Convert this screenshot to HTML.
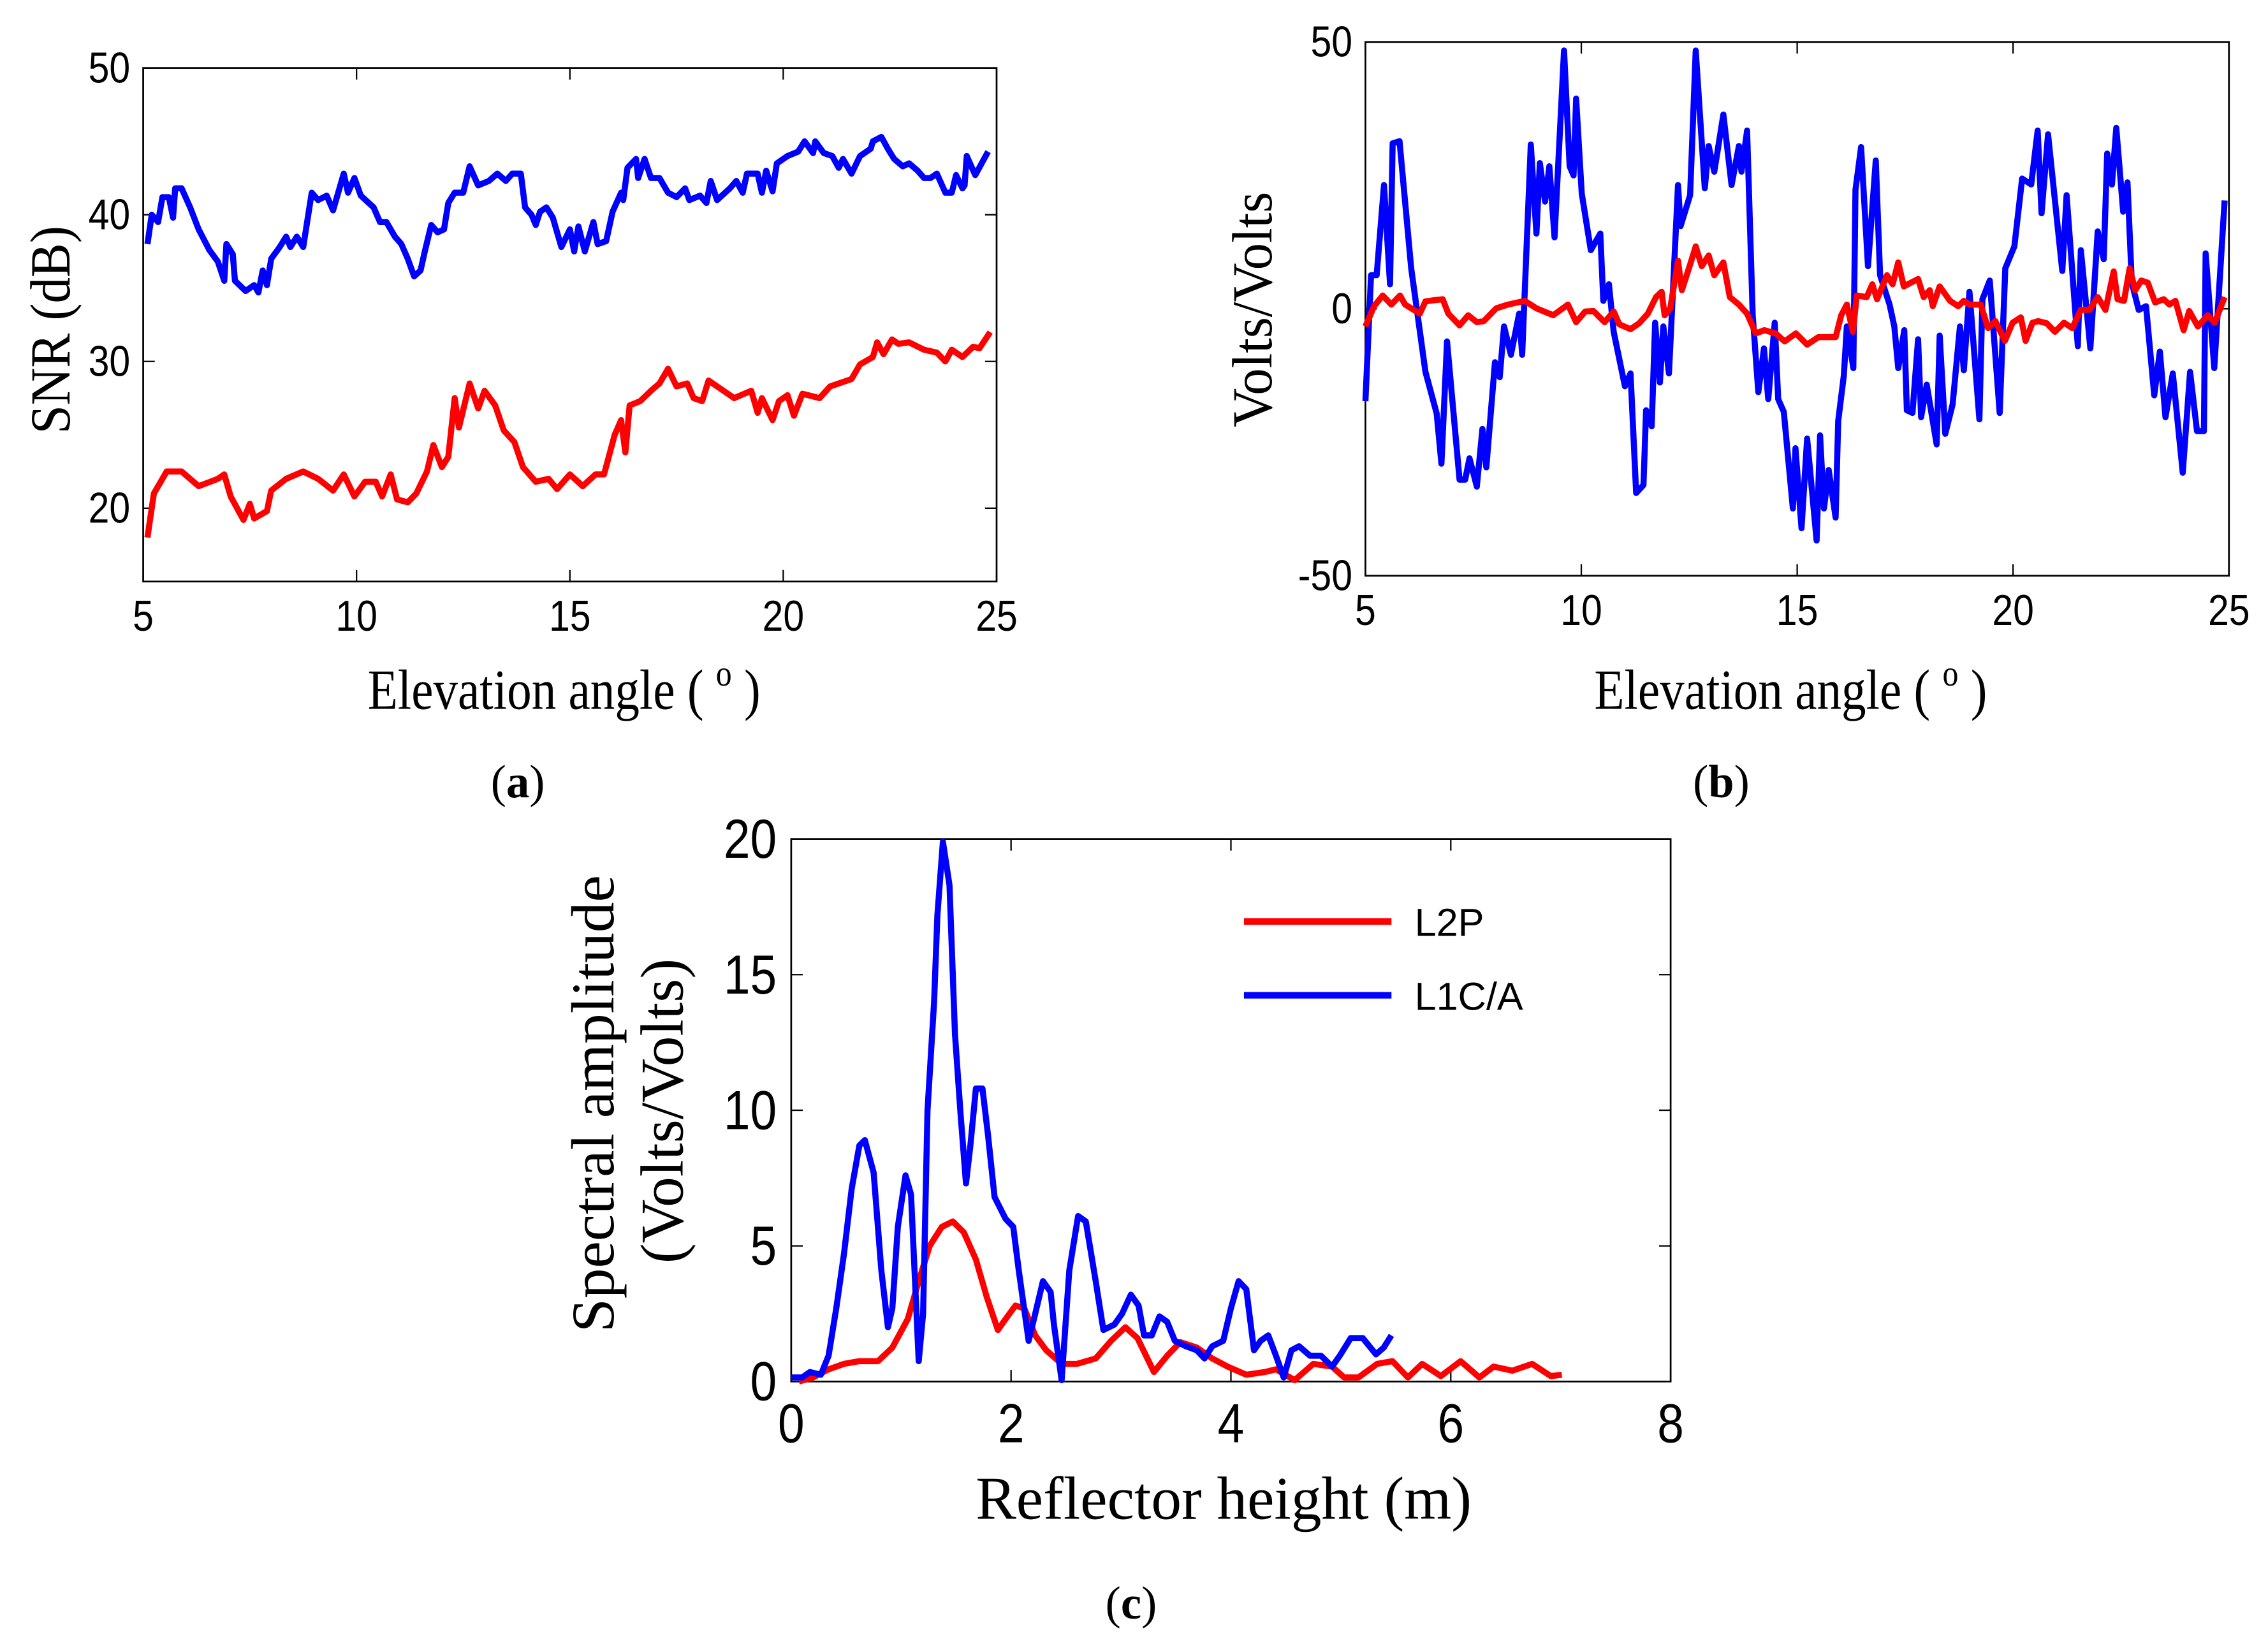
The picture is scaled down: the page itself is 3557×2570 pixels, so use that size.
<!DOCTYPE html>
<html><head><meta charset="utf-8"><style>
html,body{margin:0;padding:0;background:#fff}
svg{display:block}
.tk{font-family:"Liberation Sans Narrow","Liberation Sans",sans-serif;font-size:26px;fill:#000}
.tkc{font-family:"Liberation Sans Narrow","Liberation Sans",sans-serif;font-size:33px;fill:#000}
.ttl{font-family:"Liberation Serif",serif;font-size:34px;fill:#000}
.ttlc{font-family:"Liberation Serif",serif;font-size:42px;fill:#000}
.pl{font-family:"Liberation Serif",serif;font-size:32px;fill:#000}
.lg{font-family:"Liberation Sans",sans-serif;font-size:27px;fill:#000}
</style></head><body>
<svg id="fig" width="3557" height="2570" viewBox="0 0 1568 1133" preserveAspectRatio="none" xmlns="http://www.w3.org/2000/svg">
<g id="pa"></g>
<g id="pb"></g>
<g id="pc"></g>
<text class="ttl" transform="translate(390,490) scale(1,1.15)" text-anchor="middle">Elevation angle ( <tspan dy="-14" font-size="22">o</tspan><tspan dy="14"> )</tspan></text>
<text class="ttl" transform="translate(48,228) rotate(-90) scale(1.05,1.15)" text-anchor="middle">SNR (dB)</text>
<text class="pl" x="358" y="551" text-anchor="middle">(<tspan font-weight="bold">a</tspan>)</text>
<text class="ttl" transform="translate(1238,490) scale(1,1.15)" text-anchor="middle">Elevation angle ( <tspan dy="-14" font-size="22">o</tspan><tspan dy="14"> )</tspan></text>
<text class="ttl" transform="translate(879,214) rotate(-90) scale(1.1,1.15)" text-anchor="middle">Volts/Volts</text>
<text class="pl" x="1190" y="551" text-anchor="middle">(<tspan font-weight="bold">b</tspan>)</text>
<text class="ttlc" x="846" y="1050" text-anchor="middle">Reflector height (m)</text>
<text class="ttlc" transform="translate(424,763) rotate(-90)" text-anchor="middle">Spectral amplitude</text>
<text class="ttlc" transform="translate(472,768) rotate(-90)" text-anchor="middle">(Volts/Volts)</text>
<text class="pl" x="782" y="1119" text-anchor="middle">(<tspan font-weight="bold">c</tspan>)</text>
<g>
<line x1="860" y1="637" x2="962" y2="637" stroke="#f00" stroke-width="4.5"/>
<text class="lg" x="978" y="647">L2P</text>
<line x1="860" y1="688" x2="962" y2="688" stroke="#00f" stroke-width="4.5"/>
<text class="lg" x="978" y="698">L1C/A</text>
</g>
</svg>
<script>
const aXTicks=[5,10,15,20,25];
const aYTicks=[20,30,40,50];
const aBlue=[[5.1,38],[5.2,40],[5.35,39.5],[5.45,41.2],[5.6,41.2],[5.7,39.8],[5.75,41.8],[5.9,41.8],[6.1,40.5],[6.3,39],[6.55,37.6],[6.75,36.8],[6.9,35.5],[6.95,38],[7.1,37.3],[7.15,35.5],[7.4,34.8],[7.6,35.2],[7.7,34.7],[7.8,36.2],[7.9,35.2],[8.0,37],[8.2,37.8],[8.35,38.5],[8.45,37.8],[8.6,38.5],[8.75,37.8],[8.95,41.5],[9.1,41],[9.3,41.3],[9.45,40.3],[9.7,42.8],[9.8,41.5],[9.95,42.5],[10.1,41.3],[10.4,40.5],[10.55,39.5],[10.7,39.5],[10.9,38.5],[11.05,38],[11.2,37],[11.35,35.8],[11.5,36.2],[11.6,37.5],[11.75,39.3],[11.9,38.8],[12.05,39],[12.15,40.8],[12.3,41.5],[12.5,41.5],[12.65,43.3],[12.85,42],[13.1,42.3],[13.3,42.8],[13.5,42.3],[13.65,42.8],[13.85,42.8],[13.95,40.5],[14.1,40],[14.2,39.3],[14.3,40.2],[14.45,40.5],[14.6,39.8],[14.8,37.8],[15.0,39],[15.1,37.5],[15.2,39.2],[15.35,37.5],[15.55,39.5],[15.65,38],[15.85,38.2],[16.0,40.2],[16.2,41.5],[16.25,41],[16.35,43.2],[16.55,43.8],[16.6,42.5],[16.75,43.8],[16.9,42.5],[17.1,42.5],[17.3,41.5],[17.5,41.2],[17.7,41.8],[17.8,41],[18.05,41.3],[18.2,40.8],[18.3,42.3],[18.45,41],[18.75,41.8],[18.9,42.3],[19.05,41.5],[19.15,42.8],[19.4,42.8],[19.5,41.5],[19.6,43],[19.75,41.6],[19.85,43.5],[20.1,44],[20.35,44.3],[20.5,45],[20.7,44.2],[20.75,45],[20.95,44.2],[21.15,44],[21.3,43.2],[21.4,43.8],[21.6,42.8],[21.8,44],[22.05,44.5],[22.1,45],[22.3,45.3],[22.45,44.5],[22.6,43.8],[22.8,43.3],[22.95,43.5],[23.15,43],[23.3,42.5],[23.45,42.5],[23.6,42.8],[23.8,41.5],[23.95,41.5],[24.05,42.7],[24.2,41.8],[24.25,42],[24.3,44],[24.5,42.7],[24.8,44.3]];
const aRed=[[5.1,18],[5.25,21],[5.55,22.5],[5.9,22.5],[6.3,21.5],[6.75,22],[6.9,22.3],[7.05,20.8],[7.35,19.2],[7.5,20.3],[7.6,19.3],[7.9,19.8],[8.0,21.2],[8.35,22],[8.75,22.5],[9.1,22],[9.45,21.2],[9.7,22.3],[9.95,20.8],[10.2,21.8],[10.45,21.8],[10.6,20.8],[10.8,22.3],[10.95,20.6],[11.2,20.4],[11.4,21],[11.65,22.5],[11.8,24.3],[12.0,22.8],[12.15,23.5],[12.3,27.5],[12.4,25.5],[12.65,28.5],[12.85,26.8],[13.0,28],[13.25,27],[13.45,25.3],[13.7,24.5],[13.9,22.8],[14.2,21.8],[14.5,22],[14.7,21.3],[15.0,22.3],[15.3,21.5],[15.6,22.3],[15.8,22.3],[16.05,25],[16.2,26],[16.3,23.8],[16.4,27],[16.65,27.3],[16.9,28],[17.1,28.5],[17.3,29.5],[17.5,28.3],[17.75,28.5],[17.9,27.5],[18.1,27.3],[18.25,28.7],[18.6,28],[18.85,27.5],[19.25,28],[19.4,26.5],[19.5,27.5],[19.75,26],[19.9,27.3],[20.1,27.7],[20.25,26.3],[20.45,27.8],[20.85,27.5],[21.1,28.3],[21.4,28.6],[21.6,28.8],[21.8,29.8],[22.1,30.3],[22.2,31.3],[22.35,30.5],[22.55,31.5],[22.7,31.2],[22.95,31.3],[23.3,30.8],[23.6,30.6],[23.8,30],[23.95,30.8],[24.2,30.3],[24.45,31],[24.6,30.9],[24.85,32]];
const bXTicks=[5,10,15,20,25];
const bYTicks=[-50,0,50];
const bBlue=[[5.0,-17.3],[5.13,6.3],[5.26,6.3],[5.43,23.2],[5.57,4.6],[5.63,31],[5.79,31.4],[6.06,7.6],[6.39,-11.8],[6.65,-19.6],[6.76,-29],[6.89,-6.1],[7.18,-32],[7.31,-32],[7.41,-28],[7.58,-33.3],[7.71,-22.5],[7.8,-29.7],[8.0,-10],[8.11,-12.8],[8.21,-3.3],[8.37,-8.6],[8.56,-0.9],[8.63,-8.6],[8.83,30.8],[8.96,14.1],[9.04,27.3],[9.16,20.1],[9.26,26.7],[9.38,13.4],[9.6,48.4],[9.73,26.7],[9.82,25],[9.88,39.4],[10.01,21.6],[10.22,11],[10.44,14.1],[10.51,1.5],[10.64,4.6],[10.75,-4.3],[11.01,-14.5],[11.14,-12.1],[11.27,-34.5],[11.44,-33],[11.5,-19],[11.63,-22],[11.71,-2.6],[11.82,-13.8],[11.9,-3.3],[12.03,-12.1],[12.24,23.2],[12.3,15.5],[12.52,21.3],[12.65,48.4],[12.86,22.6],[12.95,30.5],[13.08,25.7],[13.29,36.4],[13.48,23.2],[13.65,30.5],[13.71,25.7],[13.84,33.4],[13.97,-1.2],[14.1,-15.6],[14.23,-7.4],[14.33,-16.9],[14.48,-2.6],[14.56,-16.9],[14.69,-19.3],[14.9,-37.4],[14.96,-26.1],[15.1,-41.1],[15.23,-24.3],[15.45,-43.4],[15.53,-23.7],[15.62,-37.4],[15.73,-30.2],[15.89,-39.1],[15.95,-21],[16.08,-12.5],[16.15,-3.3],[16.3,-11.1],[16.35,22.3],[16.48,30.3],[16.64,8],[16.82,27.8],[16.92,6.3],[17.14,0.8],[17.25,-3.3],[17.34,-11.1],[17.48,-4],[17.54,-19],[17.67,-19.5],[17.8,-5.7],[17.87,-20.3],[18.0,-14.2],[18.23,-25.4],[18.3,-5],[18.43,-23.4],[18.6,-17.9],[18.77,-3.3],[18.86,-11.5],[18.99,3.2],[19.22,-20.7],[19.29,1.8],[19.46,5.3],[19.69,-19.5],[19.82,7.6],[20.03,11.7],[20.21,24.4],[20.42,23.3],[20.57,33.4],[20.66,17.9],[20.81,32.7],[21.14,7.1],[21.24,21.3],[21.5,-7],[21.57,11],[21.79,-7.4],[21.96,14.5],[22.1,9.3],[22.18,29.1],[22.29,23.3],[22.39,33.9],[22.55,18.2],[22.65,23.7],[22.75,4.9],[22.91,-0.2],[23.08,0.5],[23.27,-16.2],[23.4,-8],[23.53,-20.3],[23.7,-12.1],[23.93,-30.7],[24.1,-11.8],[24.26,-22.9],[24.42,-22.9],[24.46,10.4],[24.66,-11.1],[24.9,20.3]];
const bRed=[[5.0,-3.3],[5.2,0.5],[5.4,2.5],[5.6,0.8],[5.8,2.5],[5.92,0.8],[6.26,-0.9],[6.39,1.4],[6.58,1.6],[6.79,1.8],[6.92,-0.9],[7.18,-3.1],[7.38,-1.2],[7.58,-2.5],[7.74,-2.3],[8.03,0.1],[8.3,0.8],[8.69,1.5],[8.96,0.1],[9.35,-1.2],[9.69,0.8],[9.88,-2.5],[10.09,-0.5],[10.28,-0.4],[10.54,-2.5],[10.75,-0.5],[10.88,-2.9],[11.14,-3.8],[11.34,-2.7],[11.54,-0.9],[11.73,2.2],[11.86,3.2],[11.93,-1.2],[12.06,0.1],[12.24,9],[12.33,3.5],[12.52,8.3],[12.65,11.7],[12.79,8],[12.95,10],[13.08,6.3],[13.29,8.7],[13.44,2.2],[13.65,0.8],[13.84,-0.9],[14.04,-4.6],[14.24,-4],[14.5,-4.6],[14.71,-6.1],[14.97,-4.6],[15.23,-6.7],[15.49,-5.3],[15.89,-5.3],[16.02,-1.2],[16.15,0.8],[16.29,-4.3],[16.38,2.5],[16.61,2.2],[16.74,4.6],[16.85,1.8],[17.08,6.3],[17.21,4.6],[17.34,8.7],[17.47,4.2],[17.8,5.6],[17.93,2.2],[18.07,3.5],[18.14,0.5],[18.3,4.2],[18.54,1.5],[18.73,0.5],[18.86,1.5],[18.99,0.8],[19.25,0.8],[19.42,-3.6],[19.59,-2.3],[19.81,-6],[19.99,-2.6],[20.18,-1.6],[20.29,-6],[20.45,-2.6],[20.58,-2.3],[20.78,-2.7],[20.97,-4.3],[21.18,-2.6],[21.37,-3.6],[21.57,-0.2],[21.77,-0.2],[21.96,2.2],[22.14,-0.2],[22.33,7],[22.42,1.8],[22.57,1.5],[22.7,7.6],[22.83,3.5],[22.97,5.3],[23.12,4.9],[23.29,1.2],[23.49,1.8],[23.62,0.8],[23.76,1.5],[23.95,-4],[24.08,-0.4],[24.28,-3.3],[24.51,-1.2],[24.67,-2.6],[24.9,2.2]];
const cXTicks=[0,2,4,6,8];
const cYTicks=[0,5,10,15,20];
const cBlue=[[0,0.15],[0.1,0.15],[0.17,0.35],[0.27,0.25],[0.34,0.95],[0.41,2.7],[0.48,4.7],[0.55,7.1],[0.62,8.7],[0.67,8.9],[0.75,7.7],[0.82,4.1],[0.88,2.0],[0.92,2.7],[0.97,5.7],[1.04,7.6],[1.09,6.9],[1.16,0.75],[1.2,2.5],[1.24,10],[1.3,14],[1.33,17.2],[1.38,19.9],[1.44,18.3],[1.49,12.8],[1.54,9.9],[1.59,7.3],[1.63,8.7],[1.68,10.8],[1.74,10.8],[1.79,9.1],[1.85,6.8],[1.95,6.0],[2.02,5.7],[2.07,4.1],[2.16,1.5],[2.22,2.5],[2.29,3.7],[2.36,3.3],[2.39,2.1],[2.46,0.05],[2.53,4.1],[2.61,6.1],[2.68,5.9],[2.77,3.7],[2.84,1.9],[2.94,2.1],[3.01,2.5],[3.09,3.2],[3.16,2.8],[3.21,1.7],[3.28,1.7],[3.35,2.4],[3.42,2.2],[3.49,1.5],[3.59,1.3],[3.69,1.15],[3.76,0.85],[3.83,1.3],[3.93,1.5],[4.0,2.7],[4.07,3.7],[4.14,3.4],[4.21,1.15],[4.27,1.5],[4.34,1.7],[4.41,0.95],[4.48,0.15],[4.55,1.15],[4.62,1.3],[4.72,0.95],[4.82,0.95],[4.92,0.55],[4.99,0.95],[5.09,1.6],[5.2,1.6],[5.32,1.0],[5.39,1.25],[5.46,1.7]];
const cRed=[[0.07,0],[0.2,0.15],[0.34,0.45],[0.48,0.65],[0.62,0.75],[0.79,0.75],[0.92,1.25],[1.06,2.3],[1.16,3.7],[1.26,5.0],[1.37,5.7],[1.47,5.9],[1.57,5.5],[1.68,4.5],[1.78,3.1],[1.88,1.9],[1.95,2.3],[2.04,2.8],[2.12,2.7],[2.22,1.7],[2.32,1.15],[2.46,0.65],[2.6,0.65],[2.77,0.85],[2.91,1.5],[3.04,2.0],[3.15,1.6],[3.3,0.35],[3.42,0.95],[3.54,1.45],[3.69,1.25],[3.83,0.85],[3.97,0.55],[4.14,0.25],[4.31,0.35],[4.41,0.45],[4.58,0.05],[4.75,0.65],[4.92,0.55],[5.03,0.15],[5.16,0.15],[5.33,0.65],[5.47,0.75],[5.61,0.15],[5.74,0.65],[5.91,0.2],[6.09,0.75],[6.26,0.15],[6.39,0.55],[6.56,0.4],[6.74,0.65],[6.91,0.2],[7.01,0.25]];

const NS="http://www.w3.org/2000/svg";
function mk(parent,tag,attrs){const e=document.createElementNS(NS,tag);for(const k in attrs)e.setAttribute(k,attrs[k]);parent.appendChild(e);return e;}
function chart(g,box,xd,yd,xt,yt,series,tkClass,key){
  const sx=v=>box.l+(v-xd[0])/(xd[1]-xd[0])*(box.r-box.l);
  const sy=v=>box.b-(v-yd[0])/(yd[1]-yd[0])*(box.b-box.t);
  const frame=mk(g,'rect',{x:box.l,y:box.t,width:box.r-box.l,height:box.b-box.t,fill:'none',stroke:'#000','stroke-width':1.2});
  
  
  const tl=8;
  const big=tkClass==='tkc';
  xt.forEach(v=>{const x=sx(v);
    const t1=mk(g,'line',{x1:x,y1:box.b,x2:x,y2:box.b-tl,stroke:'#000','stroke-width':1});
    
    
    const t2=mk(g,'line',{x1:x,y1:box.t,x2:x,y2:box.t+tl,stroke:'#000','stroke-width':1});
    
    
    const tx=mk(g,'text',{transform:'translate('+x+','+(box.b+(big?42:34))+') scale(1,1.15)','text-anchor':'middle','class':tkClass});
    tx.textContent=v;
    
    
  });
  yt.forEach(v=>{const y=sy(v);
    const t1=mk(g,'line',{x1:box.l,y1:y,x2:box.l+tl,y2:y,stroke:'#000','stroke-width':1});
    
    
    const t2=mk(g,'line',{x1:box.r,y1:y,x2:box.r-tl,y2:y,stroke:'#000','stroke-width':1});
    
    
    const tx=mk(g,'text',{transform:'translate('+(box.l-(big?10:9))+','+(y+(big?13:10))+') scale(1,1.15)','text-anchor':'end','class':tkClass});
    tx.textContent=v;
    
    
  });
  series.forEach(s=>{
    const pts=s.data.map(p=>sx(p[0]).toFixed(2)+','+sy(p[1]).toFixed(2)).join(' ');
    const pl=mk(g,'polyline',{points:pts,fill:'none',stroke:s.color,'stroke-width':4.2,'stroke-linejoin':'round'});
    
    
  });
}
chart(document.getElementById('pa'),{l:99,r:689,t:47,b:402},[5,25],[15,50],aXTicks,aYTicks,
  [{data:aBlue,color:'#0000ff',name:'l1ca'},{data:aRed,color:'#ff0000',name:'l2p'}],'tk','a');
chart(document.getElementById('pb'),{l:944,r:1541,t:29,b:398},[5,25],[-50,50],bXTicks,bYTicks,
  [{data:bBlue,color:'#0000ff',name:'l1ca'},{data:bRed,color:'#ff0000',name:'l2p'}],'tk','b');
chart(document.getElementById('pc'),{l:547,r:1155,t:580,b:955},[0,8],[0,20],cXTicks,cYTicks,
  [{data:cRed,color:'#ff0000',name:'l2p'},{data:cBlue,color:'#0000ff',name:'l1ca'}],'tkc','c');
</script>
</body></html>
